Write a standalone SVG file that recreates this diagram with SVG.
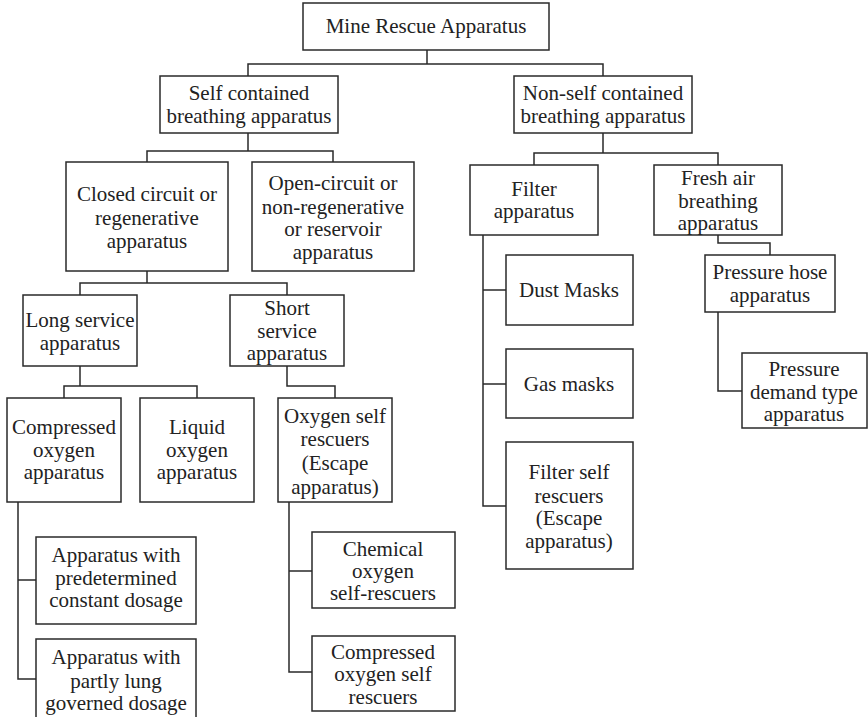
<svg xmlns="http://www.w3.org/2000/svg" width="868" height="717" viewBox="0 0 868 717">
  <style>
    .box { fill: #ffffff; stroke: #2a2a2a; stroke-width: 1.5; }
    .lbl { font-family: 'Liberation Serif', 'DejaVu Serif', serif; font-size: 21px; fill: #222222; text-anchor: middle; }
    .wire { fill: none; stroke: #2a2a2a; stroke-width: 1.5; stroke-linecap: square; }
  </style>
  <rect width="868" height="717" fill="#ffffff"/>

  <!-- connectors -->
  <g id="connectors" class="wire">
    <path d="M427,50 V64 M248,64 H603 M248,64 V76 M603,64 V76"/>
    <path d="M248,133 V151 M147,151 H333 M147,151 V162 M333,151 V162"/>
    <path d="M603,133 V153 M534,153 H718 M534,153 V165 M718,153 V165"/>
    <path d="M147,271 V283 M80,283 H287 M80,283 V295 M287,283 V295"/>
    <path d="M80,366 V386 M64,386 H197 M64,386 V398 M197,386 V398"/>
    <path d="M287,366 V386 H335 V398"/>
    <path d="M18,502 V679 H36 M18,580 H36"/>
    <path d="M289,502 V672 H312 M289,571 H312"/>
    <path d="M483,235 V506 H506 M483,290 H506 M483,384 H506"/>
    <path d="M718,235 V243 H770 V255"/>
    <path d="M718,312 V391 H742"/>
  </g>

  <g id="root">
    <rect class="box" x="303" y="3" width="246" height="47"/>
    <text class="lbl" x="426" y="33">Mine Rescue Apparatus</text>
  </g>

  <g id="self-contained">
    <rect class="box" x="160" y="76" width="178" height="57"/>
    <text class="lbl" x="249" y="100">Self contained</text>
    <text class="lbl" x="249" y="123">breathing apparatus</text>
  </g>

  <g id="non-self-contained">
    <rect class="box" x="514" y="76" width="178" height="57"/>
    <text class="lbl" x="603" y="100">Non-self contained</text>
    <text class="lbl" x="603" y="123">breathing apparatus</text>
  </g>

  <g id="closed-circuit">
    <rect class="box" x="66" y="162" width="162" height="109"/>
    <text class="lbl" x="147" y="201">Closed circuit or</text>
    <text class="lbl" x="147" y="225">regenerative</text>
    <text class="lbl" x="147" y="248">apparatus</text>
  </g>

  <g id="open-circuit">
    <rect class="box" x="252" y="162" width="162" height="109"/>
    <text class="lbl" x="333" y="190">Open-circuit or</text>
    <text class="lbl" x="333" y="214">non-regenerative</text>
    <text class="lbl" x="333" y="236">or reservoir</text>
    <text class="lbl" x="333" y="259">apparatus</text>
  </g>

  <g id="filter">
    <rect class="box" x="470" y="165" width="128" height="70"/>
    <text class="lbl" x="534" y="196">Filter</text>
    <text class="lbl" x="534" y="218">apparatus</text>
  </g>

  <g id="fresh-air">
    <rect class="box" x="654" y="165" width="128" height="70"/>
    <text class="lbl" x="718" y="185">Fresh air</text>
    <text class="lbl" x="718" y="208">breathing</text>
    <text class="lbl" x="718" y="230">apparatus</text>
  </g>

  <g id="long-service">
    <rect class="box" x="23" y="295" width="114" height="71"/>
    <text class="lbl" x="80" y="327">Long service</text>
    <text class="lbl" x="80" y="350">apparatus</text>
  </g>

  <g id="short-service">
    <rect class="box" x="230" y="295" width="114" height="71"/>
    <text class="lbl" x="287" y="315">Short</text>
    <text class="lbl" x="287" y="338">service</text>
    <text class="lbl" x="287" y="360">apparatus</text>
  </g>

  <g id="compressed-oxygen">
    <rect class="box" x="7" y="398" width="114" height="104"/>
    <text class="lbl" x="64" y="434">Compressed</text>
    <text class="lbl" x="64" y="457">oxygen</text>
    <text class="lbl" x="64" y="479">apparatus</text>
  </g>

  <g id="liquid-oxygen">
    <rect class="box" x="140" y="398" width="114" height="104"/>
    <text class="lbl" x="197" y="434">Liquid</text>
    <text class="lbl" x="197" y="457">oxygen</text>
    <text class="lbl" x="197" y="479">apparatus</text>
  </g>

  <g id="oxygen-self-rescuers">
    <rect class="box" x="278" y="398" width="114" height="104"/>
    <text class="lbl" x="335" y="423">Oxygen self</text>
    <text class="lbl" x="335" y="446">rescuers</text>
    <text class="lbl" x="335" y="470">(Escape</text>
    <text class="lbl" x="335" y="494">apparatus)</text>
  </g>

  <g id="constant-dosage">
    <rect class="box" x="36" y="537" width="160" height="87"/>
    <text class="lbl" x="116" y="562">Apparatus with</text>
    <text class="lbl" x="116" y="585">predetermined</text>
    <text class="lbl" x="116" y="607">constant dosage</text>
  </g>

  <g id="lung-governed">
    <rect class="box" x="36" y="639" width="160" height="95"/>
    <text class="lbl" x="116" y="664">Apparatus with</text>
    <text class="lbl" x="116" y="688">partly lung</text>
    <text class="lbl" x="116" y="710">governed dosage</text>
  </g>

  <g id="chemical-oxygen">
    <rect class="box" x="312" y="532" width="143" height="76"/>
    <text class="lbl" x="383" y="556">Chemical</text>
    <text class="lbl" x="383" y="578">oxygen</text>
    <text class="lbl" x="383" y="600">self-rescuers</text>
  </g>

  <g id="compressed-self-rescuers">
    <rect class="box" x="312" y="636" width="143" height="75"/>
    <text class="lbl" x="383" y="659">Compressed</text>
    <text class="lbl" x="383" y="681">oxygen self</text>
    <text class="lbl" x="383" y="704">rescuers</text>
  </g>

  <g id="dust-masks">
    <rect class="box" x="506" y="255" width="127" height="70"/>
    <text class="lbl" x="569" y="297">Dust Masks</text>
  </g>

  <g id="gas-masks">
    <rect class="box" x="506" y="349" width="127" height="69"/>
    <text class="lbl" x="569" y="391">Gas masks</text>
  </g>

  <g id="filter-self-rescuers">
    <rect class="box" x="506" y="442" width="127" height="127"/>
    <text class="lbl" x="569" y="479">Filter self</text>
    <text class="lbl" x="569" y="503">rescuers</text>
    <text class="lbl" x="569" y="525">(Escape</text>
    <text class="lbl" x="569" y="548">apparatus)</text>
  </g>

  <g id="pressure-hose">
    <rect class="box" x="705" y="255" width="130" height="57"/>
    <text class="lbl" x="770" y="279">Pressure hose</text>
    <text class="lbl" x="770" y="302">apparatus</text>
  </g>

  <g id="pressure-demand">
    <rect class="box" x="742" y="353" width="125" height="75"/>
    <text class="lbl" x="804" y="376">Pressure</text>
    <text class="lbl" x="804" y="399">demand type</text>
    <text class="lbl" x="804" y="421">apparatus</text>
  </g>
</svg>
